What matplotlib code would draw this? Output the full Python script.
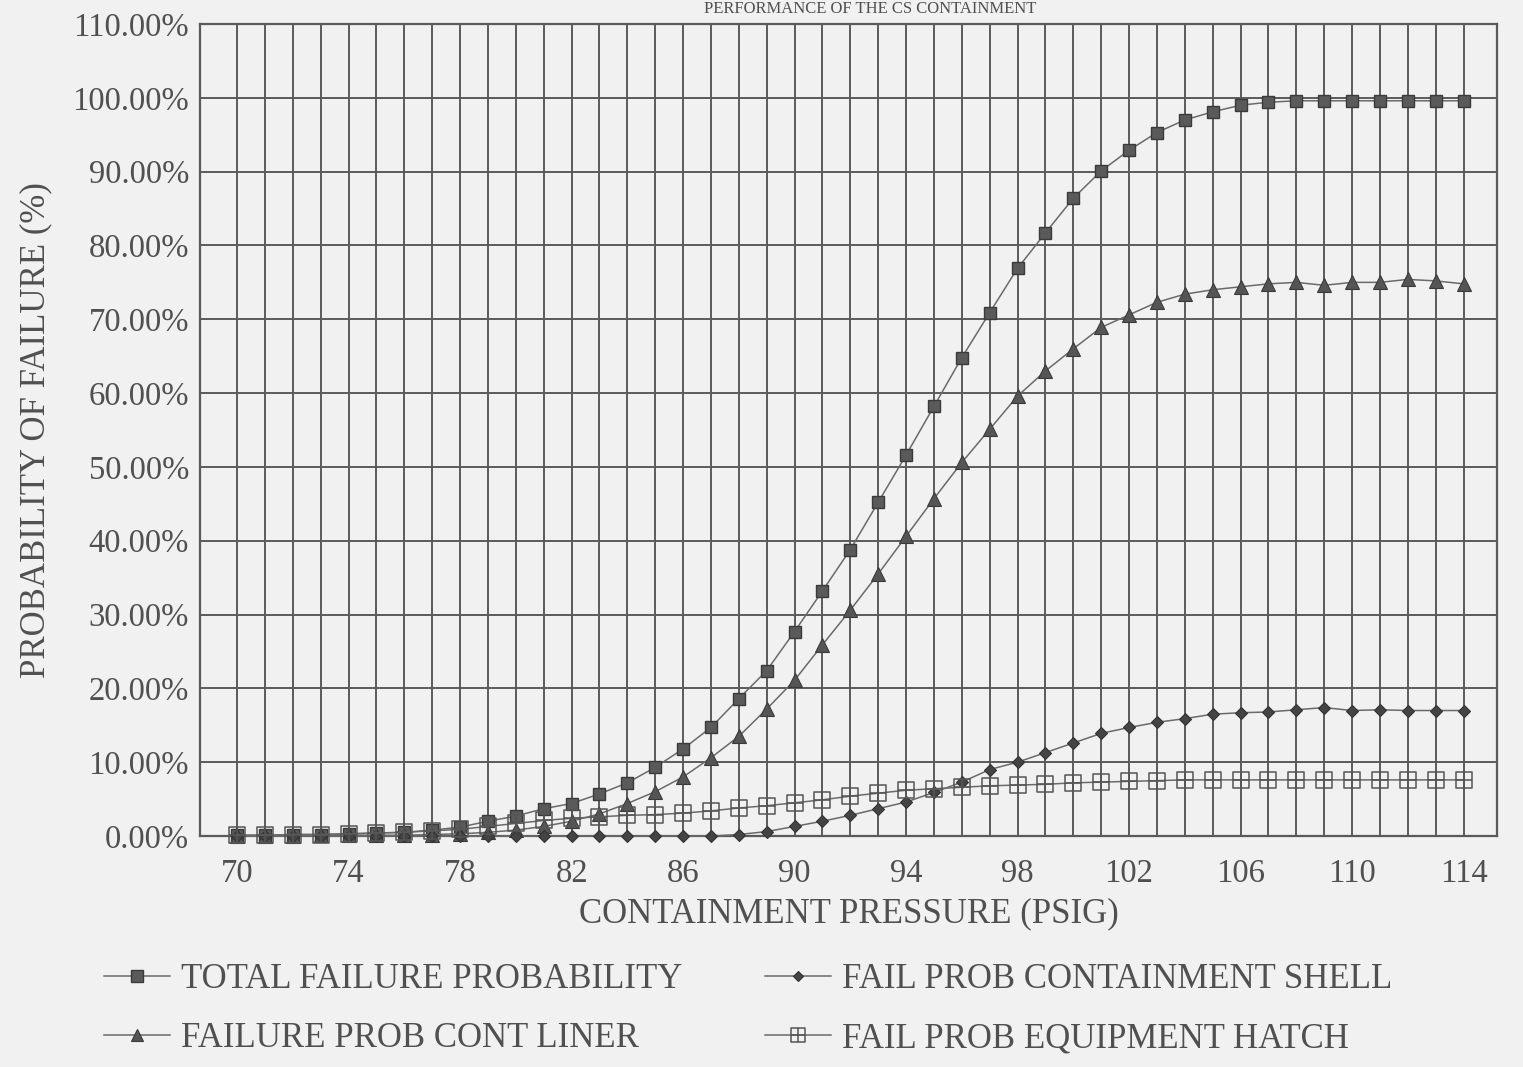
import numpy as np
import matplotlib
matplotlib.use("Agg")
import matplotlib.pyplot as plt
from matplotlib.path import Path

# ---------------- data ----------------
pressure = list(range(70, 115))  # psig, one point per psig

total = [0.1, 0.1, 0.2, 0.2, 0.3, 0.4, 0.5, 0.8, 1.2,
         2.0, 2.7, 3.7, 4.4, 5.7, 7.2, 9.3, 11.8, 14.7, 18.6, 22.4,
         27.7, 33.2, 38.8, 45.2, 51.6, 58.2, 64.8, 70.9, 76.9, 81.7,
         86.4, 90.1, 92.9, 95.3, 97.0, 98.1, 99.0, 99.4,
         99.6, 99.6, 99.6, 99.6, 99.6, 99.6, 99.6]

liner = [0.0, 0.0, 0.0, 0.1, 0.1, 0.1, 0.1, 0.2,
         0.3, 0.5, 0.8, 1.3, 2.0, 3.0, 4.4, 6.0, 8.0, 10.6, 13.5, 17.2,
         21.1, 25.9, 30.6, 35.5, 40.6, 45.7, 50.6, 55.1, 59.6, 63.0, 66.0, 68.9,
         70.6, 72.3, 73.4, 74.0, 74.4, 74.8, 75.0, 74.6, 75.0, 75.0, 75.4, 75.2, 74.8]

shell = [0.0] * 18 + [0.2, 0.6, 1.3, 2.0, 2.8, 3.7, 4.6, 5.9, 7.3, 9.0, 10.0,
                      11.3, 12.6, 13.9, 14.7, 15.4, 15.9, 16.5, 16.7, 16.8,
                      17.1, 17.4, 17.0, 17.1, 17.0, 17.0, 17.0]

hatch = [0.1, 0.1, 0.2, 0.2, 0.3, 0.4, 0.5, 0.7, 0.9, 1.3, 1.7, 2.1, 2.4, 2.6,
         2.8, 2.9, 3.1, 3.4, 3.8, 4.1, 4.5, 4.9, 5.4, 5.8, 6.2, 6.4, 6.6, 6.8,
         6.9, 7.0, 7.2, 7.3, 7.4, 7.5] + [7.6] * 11

x_ticks = list(range(70, 115, 4))
y_ticks = list(range(0, 111, 10))

labels = ["TOTAL FAILURE PROBABILITY", "FAILURE PROB CONT LINER",
          "FAIL PROB CONTAINMENT SHELL", "FAIL PROB EQUIPMENT HATCH"]
title_text = "PERFORMANCE OF THE CS CONTAINMENT"
xlabel_text = "CONTAINMENT PRESSURE (PSIG)"
ylabel_text = "PROBABILITY OF FAILURE (%)"

# ---------------- style ----------------
bg = "#f1f1f1"
ink = "#505050"
grid_c = "#5a5a5a"
plt.rcParams["font.family"] = ["Liberation Serif", "DejaVu Serif"]

fig = plt.figure(figsize=(15.23, 10.67), dpi=100, facecolor=bg)
ax = fig.add_axes([200 / 1523, 1 - 836 / 1067, 1297 / 1523, 812 / 1067])
ax.set_facecolor(bg)

# boxed-cross marker for equipment hatch
verts = [(-1, -1), (1, -1), (1, 1), (-1, 1), (-1, -1),
         (0, -1), (0, 1), (-1, 0), (1, 0)]
codes = [Path.MOVETO, Path.LINETO, Path.LINETO, Path.LINETO, Path.CLOSEPOLY,
         Path.MOVETO, Path.LINETO, Path.MOVETO, Path.LINETO]
box_cross = Path(verts, codes)

lw = 1.1
line_c = "#6a6a6a"
kw = dict(color=line_c, lw=lw, clip_on=False, zorder=3)
h_total, = ax.plot(pressure, total, marker="s", ms=9, mfc="#5a5a5a",
                   mec="#3a3a3a", mew=1.0, **kw)
h_liner, = ax.plot(pressure, liner, marker="^", ms=9.5, mfc="#555555",
                   mec="#3a3a3a", mew=0.8, **kw)
h_shell, = ax.plot(pressure, shell, marker="D", ms=6, mfc="#444444",
                   mec="#333333", mew=0.8, **kw)
h_hatch, = ax.plot(pressure, hatch, marker=box_cross, ms=11, mfc="none",
                   mec="#555555", mew=1.1, **kw)

ax.set_xlim(68.67, 115.2)
ax.set_ylim(0, 110)
ax.set_xticks(x_ticks)
ax.set_xticks(pressure, minor=True)
ax.set_yticks(y_ticks)
ax.set_yticklabels([f"{v:.2f}%" for v in y_ticks])
ax.grid(True, which="both", axis="x", color=grid_c, lw=1.4)
ax.grid(True, which="major", axis="y", color=grid_c, lw=1.4)
ax.set_axisbelow(True)
ax.tick_params(which="both", length=0, labelsize=23.5, colors=ink)
ax.tick_params(axis="x", pad=16)
ax.tick_params(axis="y", pad=8)
for s in ax.spines.values():
    s.set_color(grid_c)
    s.set_linewidth(1.6)

ax.set_xlabel(xlabel_text, fontsize=25, color=ink, labelpad=6)
ax.set_ylabel(ylabel_text, fontsize=25, color=ink, labelpad=14)

fig.text(870 / 1523, 1 - 1 / 1067, title_text, fontsize=12, color=ink,
         ha="center", va="top")

leg = fig.legend([h_total, h_liner, h_shell, h_hatch], labels, ncol=2,
                 loc="upper left", bbox_to_anchor=(73 / 1523, 1 - 932 / 1067),
                 frameon=False, fontsize=25, handlelength=1.9,
                 handletextpad=0.3, columnspacing=2.4, labelspacing=0.75,
                 markerscale=0.9)
for t in leg.get_texts():
    t.set_color(ink)

fig.savefig("out.png", dpi=100, facecolor=bg)
